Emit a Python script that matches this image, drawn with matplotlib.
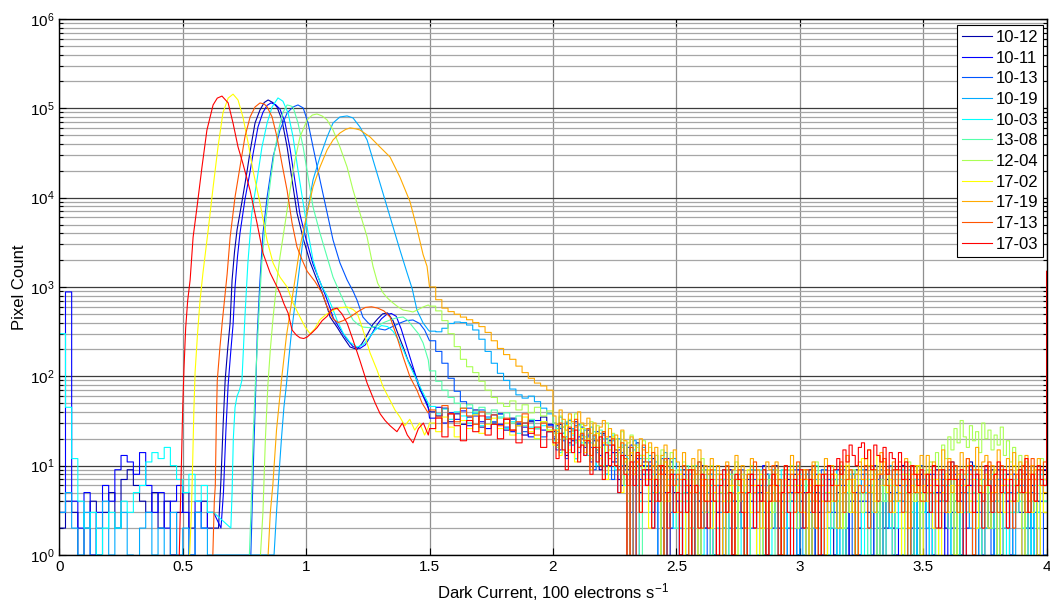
import numpy as np
import matplotlib
matplotlib.use("Agg")
import matplotlib.pyplot as plt
from matplotlib.ticker import FixedLocator, FuncFormatter, LogLocator, NullFormatter

plt.rcParams['font.family'] = ['Liberation Sans', 'DejaVu Sans']
plt.rcParams['mathtext.default'] = 'regular'

# ---------------------------------------------------------------------------
# Histogram data (dark current in units of 100 e-/s, pixel counts)
# ---------------------------------------------------------------------------
labels = ['10-12', '10-11', '10-13', '10-19', '10-03', '13-08',
          '12-04', '17-02', '17-19', '17-13', '17-03']
colors = [(0, 0, 0.667), (0, 0, 1), (0, 0.333, 1), (0, 0.667, 1), (0, 1, 1),
          (0.333, 1, 0.667), (0.667, 1, 0.333), (1, 1, 0), (1, 0.667, 0),
          (1, 0.333, 0), (1, 0, 0)]

LOW_START, LOW_W = 0.0, 0.025        # 25 bins, 0 .. 0.625
MID_START, MID_W = 1.5, 0.025        # 20 bins, 1.5 .. 2.0
FAR_START, FAR_W = 2.0, 0.0125       # 160 bins, 2.0 .. 4.0

# low-signal counts (0 .. 0.625)
low_10_12 = [2, 4, 3, 0, 2, 4, 1, 3, 5, 2, 7, 9, 6, 4, 3, 5, 2, 4, 1, 3, 5, 2, 3, 4, 2]
low_10_11 = [3, 880, 4, 2, 5, 1, 3, 6, 4, 9, 13, 11, 8, 14, 6, 3, 5, 2, 4, 6, 3, 1, 4, 2, 3]
low_10_19 = [3, 5, 2, 1, 3, 0, 2, 4, 1, 2, 3, 1, 0, 2, 3, 1, 2, 0, 3, 1, 2, 1, 3, 2, 1]
low_10_03 = [300, 45, 12, 4, 2, 3, 1, 2, 3, 2, 4, 3, 5, 6, 11, 14, 12, 16, 10, 7, 5, 8, 4, 6, 3]
low_17_19 = [0] * 25

# single-bin counts at the range edges
first_17_19 = 1550     # x = 0
last_17_03 = 1500      # x = 4

# main peak + secondary bump (bin centre, count)
x_10_12 = [0.645, 0.655, 0.664, 0.672, 0.682, 0.692, 0.700, 0.710, 0.720, 0.740, 0.761, 0.773,
           0.793, 0.813, 0.830, 0.846, 0.865, 0.882, 0.902, 0.923, 0.943, 0.963, 0.988, 1.016,
           1.044, 1.065, 1.085, 1.097, 1.125, 1.150, 1.178, 1.206, 1.225, 1.247, 1.270, 1.290,
           1.310, 1.330, 1.352, 1.372, 1.393, 1.413, 1.433, 1.462, 1.490]
n_10_12 = [2, 7, 30, 91, 200, 395, 1200, 2500, 4340, 9000, 20000, 33000,
           68500, 95800, 116000, 124000, 116000, 103500, 74000, 36900, 15800, 6730, 3500, 1900,
           1200, 857, 597, 461, 356, 276, 213, 200, 230, 290, 380, 440,
           500, 512, 420, 300, 213, 150, 118, 70, 50]

x_10_11 = [0.655, 0.665, 0.675, 0.684, 0.694, 0.704, 0.712, 0.722, 0.732, 0.752, 0.772, 0.785,
           0.805, 0.825, 0.842, 0.858, 0.876, 0.894, 0.914, 0.935, 0.955, 0.975, 1.000, 1.028,
           1.056, 1.077, 1.097, 1.110, 1.137, 1.162, 1.190, 1.218, 1.240, 1.262, 1.285, 1.305,
           1.325, 1.345, 1.365, 1.385, 1.405, 1.425, 1.445, 1.472, 1.495]
n_10_11 = [2, 5, 25, 80, 180, 380, 1000, 2200, 4000, 9500, 19000, 31000,
           62000, 90000, 108000, 115000, 110000, 98000, 70000, 35000, 15000, 6500, 3400, 1800,
           1150, 820, 580, 450, 340, 265, 215, 205, 225, 285, 370, 440,
           490, 505, 470, 340, 225, 150, 100, 62, 44]

x_10_13 = [0.776, 0.782, 0.788, 0.795, 0.802, 0.813, 0.825, 0.842, 0.866, 0.894, 0.923, 0.947,
           0.967, 0.988, 1.008, 1.028, 1.056, 1.085, 1.109, 1.137, 1.166, 1.190, 1.206, 1.230,
           1.250, 1.271, 1.295, 1.320, 1.350, 1.380, 1.405, 1.433, 1.460, 1.480]
n_10_13 = [1, 4, 15, 60, 300, 1200, 4000, 10200, 28500, 57000, 88700, 103500,
           109000, 101000, 68500, 36900, 15800, 6730, 3360, 1860, 1200, 900, 715, 461,
           400, 356, 340, 330, 360, 395, 420, 427, 390, 330]

x_10_19 = [0.870, 0.880, 0.890, 0.900, 0.910, 0.920, 0.930, 0.940, 0.955, 0.967, 0.985, 1.004,
           1.028, 1.056, 1.085, 1.109, 1.137, 1.166, 1.190, 1.218, 1.247, 1.271, 1.299, 1.328,
           1.352, 1.380, 1.409, 1.430, 1.449, 1.474, 1.495]
n_10_19 = [1, 3, 8, 20, 45, 80, 160, 300, 650, 1200, 3000, 6730,
           15800, 28500, 47800, 68500, 80000, 82100, 78000, 61800, 44200, 26400, 14600, 7860,
           4690, 2600, 1440, 950, 552, 395, 330]

x_10_03 = [0.695, 0.700, 0.705, 0.712, 0.720, 0.730, 0.740, 0.752, 0.764, 0.780, 0.801, 0.821,
           0.842, 0.862, 0.886, 0.906, 0.927, 0.947, 0.967, 0.988, 1.008, 1.028, 1.048, 1.065,
           1.085, 1.105, 1.125, 1.150, 1.178, 1.206, 1.230, 1.255, 1.280, 1.305, 1.330, 1.352,
           1.372, 1.393, 1.421, 1.449, 1.474, 1.495]
n_10_03 = [2, 5, 20, 45, 60, 70, 91, 461, 1860, 6730, 15800, 36900,
           68500, 103500, 130600, 120000, 88700, 47800, 20400, 8700, 4020, 2000, 1300, 1000,
           800, 597, 427, 305, 240, 213, 225, 270, 330, 370, 360, 320,
           260, 200, 130, 90, 65, 50]

x_13_08 = [0.770, 0.778, 0.785, 0.795, 0.808, 0.820, 0.838, 0.855, 0.872, 0.890, 0.906, 0.923,
           0.935, 0.947, 0.967, 0.988, 1.008, 1.028, 1.056, 1.085, 1.109, 1.130, 1.150, 1.170,
           1.190, 1.210, 1.230, 1.260, 1.290, 1.315, 1.340, 1.365, 1.393, 1.413, 1.433, 1.455,
           1.474, 1.495]
n_13_08 = [1, 4, 20, 91, 460, 1800, 6000, 15000, 33000, 60000, 90000, 109000,
           107000, 103500, 68500, 36900, 17000, 7860, 4020, 2170, 1290, 950, 715, 540,
           427, 380, 356, 350, 370, 400, 427, 450, 461, 420, 356, 300,
           236, 152]

x_12_04 = [0.815, 0.825, 0.835, 0.845, 0.855, 0.866, 0.882, 0.894, 0.915, 0.935, 0.955, 0.975,
           1.004, 1.025, 1.044, 1.065, 1.085, 1.109, 1.137, 1.166, 1.190, 1.218, 1.247, 1.271,
           1.290, 1.312, 1.332, 1.352, 1.372, 1.393, 1.413, 1.433, 1.455, 1.474, 1.495]
n_12_04 = [1, 3, 20, 80, 200, 450, 1200, 2170, 5200, 12200, 26400, 47800,
           74000, 84000, 86400, 82000, 74000, 57200, 36900, 22000, 12200, 6730, 3630, 1700,
           1100, 857, 740, 662, 600, 552, 540, 525, 560, 597, 629]

x_17_02 = [0.528, 0.535, 0.540, 0.545, 0.550, 0.560, 0.570, 0.582, 0.603, 0.623, 0.643, 0.663,
           0.684, 0.704, 0.724, 0.744, 0.765, 0.785, 0.813, 0.842, 0.866, 0.894, 0.923, 0.947,
           0.967, 0.996, 1.016, 1.035, 1.056, 1.076, 1.097, 1.117, 1.137, 1.166, 1.190, 1.206,
           1.218, 1.235, 1.259, 1.287, 1.312, 1.340, 1.360, 1.380, 1.400, 1.420, 1.440, 1.460,
           1.480, 1.495]
n_17_02 = [1, 3, 10, 40, 110, 300, 700, 1440, 4300, 13000, 37000, 89000,
           130000, 144000, 124000, 80000, 41000, 20000, 8700, 3300, 1860, 1290, 1000, 660,
           510, 356, 300, 340, 430, 480, 525, 560, 585, 597, 560, 512,
           420, 300, 183, 118, 76, 54, 42, 35, 28, 33, 25, 30,
           22, 27]

x_17_19 = [0.846, 0.855, 0.865, 0.880, 0.900, 0.920, 0.940, 0.955, 0.975, 1.004, 1.028, 1.056,
           1.085, 1.109, 1.137, 1.160, 1.178, 1.200, 1.218, 1.259, 1.299, 1.340, 1.380, 1.421,
           1.449, 1.474, 1.490]
n_17_19 = [1, 3, 6, 25, 90, 280, 650, 1200, 2800, 6730, 13200, 22000,
           34200, 44200, 52900, 58000, 60300, 59000, 57200, 47800, 36900, 28500, 17000, 9000,
           4500, 2300, 1700]

x_17_13 = [0.622, 0.628, 0.632, 0.636, 0.640, 0.650, 0.660, 0.670, 0.680, 0.692, 0.712, 0.732,
           0.752, 0.773, 0.793, 0.813, 0.830, 0.842, 0.862, 0.882, 0.902, 0.923, 0.943, 0.963,
           0.984, 1.004, 1.036, 1.065, 1.085, 1.109, 1.130, 1.150, 1.178, 1.210, 1.240, 1.265,
           1.290, 1.315, 1.340, 1.368, 1.393, 1.421, 1.449, 1.470, 1.494]
n_17_13 = [1, 4, 6, 30, 90, 200, 400, 750, 1400, 3600, 10200, 22000,
           47800, 80000, 103500, 114700, 112000, 103500, 80000, 47800, 24000, 12000, 5200, 2800,
           2000, 1500, 1150, 850, 600, 440, 400, 420, 461, 530, 590, 600,
           580, 540, 461, 276, 165, 98, 70, 50, 39]

x_17_03 = [0.486, 0.490, 0.495, 0.500, 0.505, 0.512, 0.520, 0.530, 0.542, 0.558, 0.578, 0.598,
           0.623, 0.640, 0.659, 0.684, 0.704, 0.724, 0.744, 0.773, 0.801, 0.825, 0.854, 0.875,
           0.894, 0.910, 0.927, 0.943, 0.960, 0.975, 0.990, 1.004, 1.025, 1.044, 1.065, 1.085,
           1.105, 1.125, 1.145, 1.166, 1.190, 1.218, 1.247, 1.280, 1.300, 1.320, 1.340, 1.368,
           1.390, 1.410, 1.433, 1.455, 1.475, 1.495]
n_17_03 = [1, 3, 12, 45, 120, 350, 700, 1200, 3600, 7900, 22000, 57000,
           109000, 130000, 137000, 115000, 68000, 37000, 24000, 12000, 5200, 2400, 1440, 1100,
           860, 650, 510, 330, 290, 270, 265, 275, 310, 350, 420, 470,
           560, 580, 500, 395, 255, 150, 84, 50, 38, 32, 28, 24,
           30, 22, 18, 26, 30, 22]

# counts 1.5 .. 2.0 (20 bins)
mid_10_12 = [40, 36, 44, 31, 38, 29, 35, 42, 27, 33, 30, 38, 25, 34, 28, 22, 31, 26, 35, 24]
mid_10_11 = [34, 45, 30, 39, 33, 41, 28, 36, 31, 26, 37, 29, 33, 24, 30, 27, 21, 32, 25, 29]
mid_10_13 = [250, 190, 140, 95, 68, 52, 44, 38, 42, 35, 31, 38, 27, 33, 29, 24, 32, 26, 21, 28]
mid_10_19 = [320, 315, 345, 390, 405, 400, 375, 330, 260, 190, 140, 108, 90, 72, 62, 57, 60, 52, 44, 38]
mid_10_03 = [46, 38, 43, 33, 40, 36, 30, 39, 28, 34, 29, 35, 26, 31, 23, 30, 27, 20, 28, 24]
mid_13_08 = [115, 88, 70, 58, 50, 44, 48, 40, 45, 38, 42, 34, 39, 30, 36, 28, 33, 26, 31, 25]
mid_12_04 = [610, 540, 420, 300, 215, 155, 128, 110, 88, 70, 58, 50, 46, 53, 42, 48, 39, 45, 36, 41]
mid_17_02 = [30, 24, 35, 27, 21, 32, 26, 37, 23, 29, 34, 26, 30, 22, 28, 35, 24, 20, 31, 25]
mid_17_19 = [1000, 720, 580, 530, 495, 460, 430, 400, 360, 310, 250, 205, 175, 155, 130, 110, 95, 84, 78, 70]
mid_17_13 = [42, 35, 47, 38, 31, 44, 36, 29, 40, 33, 37, 28, 34, 25, 31, 38, 26, 22, 30, 27]
mid_17_03 = [26, 34, 21, 38, 28, 19, 32, 24, 36, 22, 29, 20, 33, 25, 18, 30, 23, 27, 16, 24]

# counts 2.0 .. 4.0 (160 bins)
far_10_12 = [24, 17, 29, 21, 13, 26, 19, 31, 16, 22, 18, 25, 12, 20, 15, 9, 23, 14, 19, 11,
             14, 7, 16, 10, 0, 13, 8, 18, 5, 11, 9, 4, 12, 6, 10, 2, 8, 0, 11, 5,
             7, 3, 9, 1, 6, 0, 8, 4, 10, 2, 5, 8, 0, 3, 7, 2, 6, 9, 1, 4,
             6, 2, 0, 7, 4, 9, 3, 5, 1, 8, 3, 6, 10, 2, 5, 0, 7, 4, 8, 1,
             4, 7, 2, 9, 0, 5, 3, 6, 8, 2, 6, 1, 5, 8, 3, 0, 7, 4, 9, 2,
             5, 9, 3, 6, 0, 4, 8, 2, 7, 5, 2, 6, 4, 10, 3, 7, 1, 5, 0, 8,
             7, 3, 5, 0, 9, 4, 6, 2, 8, 3, 4, 8, 1, 6, 3, 11, 5, 0, 7, 4,
             6, 2, 9, 4, 7, 1, 5, 8, 0, 3, 5, 7, 3, 8, 2, 6, 0, 4, 9, 5]
far_10_11 = [20, 28, 15, 23, 30, 18, 25, 12, 21, 27, 16, 22, 11, 19, 24, 13, 17, 8, 21, 14,
             11, 15, 6, 13, 9, 17, 0, 12, 7, 10, 6, 11, 3, 8, 0, 9, 5, 12, 2, 7,
             4, 0, 8, 5, 2, 9, 6, 1, 7, 3, 8, 4, 1, 6, 0, 7, 3, 9, 5, 2,
             3, 7, 5, 0, 8, 2, 6, 4, 10, 1, 6, 2, 8, 4, 1, 7, 0, 5, 3, 9,
             2, 5, 0, 7, 4, 8, 6, 1, 9, 3, 7, 3, 9, 2, 6, 0, 4, 8, 5, 1,
             4, 8, 2, 5, 10, 3, 0, 6, 2, 7, 9, 1, 6, 3, 8, 5, 2, 7, 0, 4,
             3, 6, 8, 1, 5, 9, 4, 0, 7, 2, 8, 0, 4, 7, 2, 6, 10, 3, 5, 1,
             2, 7, 5, 0, 9, 3, 6, 4, 1, 8, 6, 3, 0, 5, 8, 2, 7, 1, 4, 9]
far_10_13 = [21, 15, 26, 19, 12, 24, 17, 28, 14, 20, 13, 21, 16, 9, 19, 12, 22, 10, 17, 7,
             12, 5, 14, 9, 16, 3, 11, 0, 13, 8, 7, 10, 2, 9, 5, 12, 0, 6, 3, 8,
             5, 1, 7, 9, 3, 0, 6, 4, 8, 2, 0, 6, 3, 8, 5, 1, 9, 2, 4, 7,
             4, 9, 1, 5, 2, 7, 0, 6, 3, 8, 7, 3, 6, 0, 4, 8, 2, 5, 9, 1,
             5, 2, 8, 3, 0, 6, 4, 9, 1, 7, 3, 7, 0, 6, 9, 2, 5, 1, 8, 4,
             8, 4, 6, 1, 3, 7, 9, 0, 5, 2, 1, 5, 9, 4, 7, 0, 3, 6, 2, 10,
             6, 0, 3, 8, 2, 5, 7, 4, 9, 1, 2, 7, 5, 0, 6, 9, 1, 8, 3, 5,
             9, 3, 1, 6, 4, 0, 7, 2, 5, 8, 4, 6, 8, 2, 0, 5, 3, 9, 6, 1]
far_10_19 = [30, 24, 35, 27, 21, 32, 26, 19, 29, 23, 25, 18, 27, 21, 14, 23, 17, 20, 12, 19,
             15, 20, 10, 17, 8, 14, 19, 6, 12, 16, 10, 13, 5, 11, 0, 9, 14, 4, 8, 12,
             7, 2, 10, 5, 8, 0, 6, 11, 3, 9, 5, 8, 1, 6, 3, 9, 0, 7, 4, 2,
             8, 4, 6, 0, 9, 2, 5, 7, 1, 6, 3, 9, 2, 7, 5, 0, 8, 4, 6, 1,
             6, 1, 8, 4, 2, 7, 5, 0, 9, 3, 2, 7, 4, 9, 0, 5, 3, 8, 1, 6,
             9, 3, 0, 6, 8, 2, 7, 4, 5, 10, 4, 8, 5, 1, 6, 9, 3, 0, 7, 2,
             7, 2, 9, 5, 0, 4, 8, 6, 3, 11, 3, 6, 1, 8, 5, 2, 10, 4, 0, 7,
             8, 5, 3, 0, 7, 9, 2, 6, 4, 1, 5, 9, 6, 2, 4, 0, 8, 3, 7, 6]
far_10_03 = [19, 26, 14, 23, 29, 17, 22, 12, 25, 18, 21, 13, 18, 24, 10, 16, 20, 8, 15, 22,
             9, 14, 17, 6, 12, 0, 15, 10, 4, 13, 11, 3, 8, 13, 5, 9, 0, 7, 12, 2,
             6, 9, 0, 4, 8, 2, 10, 5, 1, 7, 3, 6, 9, 2, 0, 7, 4, 8, 5, 1,
             7, 0, 5, 8, 3, 6, 1, 9, 2, 4, 1, 8, 4, 6, 9, 2, 5, 0, 7, 3,
             8, 3, 6, 0, 5, 10, 2, 7, 4, 1, 4, 9, 1, 7, 2, 5, 8, 3, 0, 6,
             0, 5, 7, 3, 9, 1, 6, 4, 8, 2, 6, 2, 4, 9, 0, 8, 3, 7, 1, 5,
             3, 8, 0, 5, 7, 2, 9, 4, 6, 0, 9, 1, 6, 3, 8, 4, 0, 7, 2, 5,
             2, 6, 8, 4, 1, 7, 5, 0, 9, 3, 7, 4, 2, 9, 5, 0, 6, 3, 8, 4]
far_13_08 = [23, 16, 27, 20, 31, 14, 24, 18, 28, 21, 17, 23, 12, 20, 15, 25, 10, 18, 13, 21,
             13, 8, 16, 11, 4, 14, 9, 17, 0, 12, 8, 12, 4, 10, 6, 0, 11, 3, 9, 7,
             2, 8, 5, 10, 3, 7, 0, 6, 9, 4, 6, 1, 9, 4, 7, 2, 5, 0, 8, 3,
             4, 7, 2, 0, 6, 9, 3, 8, 1, 5, 8, 5, 0, 7, 3, 6, 9, 2, 4, 10,
             3, 9, 6, 1, 8, 4, 0, 7, 5, 2, 7, 2, 4, 8, 0, 6, 3, 9, 1, 5,
             5, 8, 1, 6, 9, 3, 7, 0, 4, 6, 0, 4, 7, 2, 5, 8, 1, 6, 10, 3,
             6, 9, 3, 5, 0, 7, 4, 8, 2, 9, 4, 1, 8, 6, 3, 10, 5, 2, 7, 0,
             7, 5, 2, 9, 4, 0, 8, 6, 3, 6, 3, 8, 5, 1, 7, 4, 9, 2, 6, 4]
far_12_04 = [30, 23, 36, 27, 20, 33, 25, 38, 22, 29, 26, 19, 31, 22, 28, 16, 24, 30, 18, 23,
             20, 14, 24, 11, 18, 22, 9, 16, 13, 19, 12, 16, 7, 13, 9, 15, 4, 10, 14, 6,
             9, 4, 11, 7, 0, 10, 5, 8, 12, 3, 6, 10, 3, 8, 5, 0, 9, 4, 7, 11,
             4, 8, 6, 2, 10, 5, 7, 0, 9, 3, 7, 3, 9, 5, 1, 8, 4, 10, 6, 2,
             5, 9, 2, 7, 4, 11, 0, 6, 8, 3, 8, 4, 6, 10, 2, 7, 5, 9, 3, 6,
             3, 7, 10, 5, 8, 1, 6, 4, 9, 7, 6, 9, 4, 8, 3, 11, 7, 5, 10, 4,
             8, 5, 11, 7, 14, 9, 17, 12, 21, 15, 26, 18, 32, 21, 16, 28, 19, 24, 14, 30,
             20, 25, 15, 22, 17, 27, 13, 19, 11, 16, 9, 13, 7, 11, 5, 10, 8, 6, 12, 7]
far_17_02 = [17, 25, 13, 21, 28, 15, 23, 11, 19, 26, 14, 20, 9, 17, 23, 12, 18, 7, 15, 21,
             10, 16, 5, 12, 0, 14, 8, 11, 3, 13, 7, 2, 10, 5, 8, 0, 11, 4, 9, 6,
             3, 8, 0, 6, 2, 9, 5, 1, 7, 4, 9, 2, 5, 0, 7, 4, 8, 3, 6, 1,
             5, 7, 1, 9, 3, 6, 0, 8, 2, 5, 2, 6, 8, 4, 0, 7, 5, 9, 3, 6,
             7, 3, 0, 6, 9, 2, 8, 4, 1, 5, 4, 8, 6, 2, 5, 10, 3, 7, 0, 9,
             12, 6, 15, 9, 4, 13, 8, 11, 5, 7, 3, 9, 5, 0, 8, 2, 6, 4, 10, 1,
             6, 4, 9, 2, 7, 0, 5, 8, 3, 6, 1, 8, 3, 6, 10, 4, 7, 2, 9, 5,
             8, 2, 5, 9, 0, 6, 3, 7, 4, 10, 4, 7, 0, 5, 8, 3, 9, 1, 6, 3]
far_17_19 = [36, 29, 42, 33, 25, 38, 31, 27, 40, 30, 28, 34, 23, 30, 19, 27, 32, 21, 26, 17,
             22, 16, 25, 19, 13, 21, 17, 11, 20, 15, 14, 18, 10, 16, 8, 13, 17, 6, 12, 15,
             11, 7, 14, 9, 5, 12, 8, 15, 6, 10, 8, 12, 4, 10, 7, 0, 11, 6, 9, 13,
             6, 10, 3, 8, 12, 5, 9, 2, 7, 11, 9, 4, 11, 7, 2, 10, 6, 13, 5, 8,
             5, 9, 7, 0, 11, 4, 8, 6, 12, 3, 10, 6, 2, 9, 5, 13, 7, 3, 8, 11,
             7, 12, 5, 10, 3, 8, 14, 6, 9, 4, 11, 4, 9, 6, 12, 2, 8, 10, 5, 13,
             8, 13, 6, 11, 4, 9, 15, 7, 12, 5, 10, 6, 14, 8, 12, 3, 9, 16, 7, 11,
             13, 7, 10, 5, 15, 9, 6, 12, 8, 14, 6, 11, 8, 13, 4, 10, 7, 12, 9, 5]
far_17_13 = [25, 18, 30, 21, 14, 27, 20, 33, 16, 23, 19, 26, 13, 22, 16, 10, 24, 17, 12, 20,
             15, 9, 18, 12, 6, 16, 0, 13, 10, 17, 11, 7, 14, 4, 10, 8, 12, 2, 9, 6,
             8, 3, 10, 6, 0, 9, 5, 11, 2, 7, 4, 9, 6, 1, 8, 3, 10, 5, 0, 7,
             9, 5, 2, 8, 6, 11, 3, 7, 4, 0, 6, 10, 4, 7, 1, 9, 5, 8, 3, 11,
             3, 7, 9, 5, 10, 2, 6, 0, 8, 4, 8, 4, 6, 11, 3, 7, 9, 5, 1, 6,
             5, 10, 2, 7, 9, 4, 8, 12, 6, 3, 9, 6, 11, 3, 7, 0, 10, 5, 8, 4,
             4, 8, 5, 10, 2, 9, 6, 3, 11, 7, 10, 3, 7, 5, 12, 8, 1, 9, 6, 4,
             6, 11, 4, 8, 3, 10, 7, 5, 9, 2, 8, 5, 10, 3, 7, 12, 4, 9, 6, 11]
far_17_03 = [18, 12, 23, 15, 9, 20, 14, 25, 11, 17, 13, 19, 8, 16, 11, 21, 7, 14, 10, 17,
             10, 5, 13, 8, 0, 11, 6, 14, 3, 9, 6, 9, 2, 7, 4, 10, 0, 5, 8, 3,
             5, 1, 7, 3, 9, 0, 6, 2, 8, 4, 2, 7, 4, 0, 6, 9, 3, 5, 1, 8,
             7, 3, 0, 5, 8, 2, 6, 4, 9, 1, 4, 8, 6, 1, 5, 10, 3, 0, 7, 5,
             9, 2, 5, 7, 3, 6, 1, 8, 4, 10, 6, 9, 12, 8, 15, 11, 17, 13, 10, 16,
             18, 12, 15, 9, 17, 13, 11, 16, 8, 14, 12, 9, 14, 7, 11, 5, 10, 8, 6, 9,
             5, 8, 3, 10, 6, 2, 9, 4, 7, 11, 7, 4, 9, 0, 6, 10, 3, 8, 5, 2,
             10, 6, 3, 8, 11, 5, 9, 2, 7, 4, 6, 9, 5, 12, 3, 8, 4, 10, 7, 6]


def stair_vertices(start, width, counts):
    """Vertices of a step outline for equal-width histogram bins."""
    xs, ys = [], []
    for i, c in enumerate(counts):
        left = start + i * width
        xs += [left, left + width]
        ys += [c, c]
    return xs, ys


series = [
    (None, low_10_12, x_10_12, n_10_12, mid_10_12, far_10_12, None),
    (None, low_10_11, x_10_11, n_10_11, mid_10_11, far_10_11, None),
    (None, None, x_10_13, n_10_13, mid_10_13, far_10_13, None),
    (None, low_10_19, x_10_19, n_10_19, mid_10_19, far_10_19, None),
    (None, low_10_03, x_10_03, n_10_03, mid_10_03, far_10_03, None),
    (None, None, x_13_08, n_13_08, mid_13_08, far_13_08, None),
    (None, None, x_12_04, n_12_04, mid_12_04, far_12_04, None),
    (None, None, x_17_02, n_17_02, mid_17_02, far_17_02, None),
    (first_17_19, low_17_19, x_17_19, n_17_19, mid_17_19, far_17_19, None),
    (None, None, x_17_13, n_17_13, mid_17_13, far_17_13, None),
    (None, None, x_17_03, n_17_03, mid_17_03, far_17_03, last_17_03),
]

fig = plt.figure(figsize=(10.5, 6.02), dpi=100)
ax = fig.add_axes([0.0565, 0.0781, 0.9402, 0.8904])
ax.set_yscale('log', nonpositive='clip')

for (first, low, bx, by, mid, far, last), label, color in zip(series, labels, colors):
    assert len(bx) == len(by) and len(mid) == 20 and len(far) == 160
    xs, ys = [], []
    if first is not None:
        xs.append(0.0)
        ys.append(first)
    if low is not None:
        lx, ly = stair_vertices(LOW_START, LOW_W, low)
        xs += lx
        ys += ly
    xs += bx
    ys += by
    for start, width, counts in ((MID_START, MID_W, mid), (FAR_START, FAR_W, far)):
        sx, sy = stair_vertices(start, width, counts)
        xs += sx
        ys += sy
    if last is not None:
        xs.append(4.0)
        ys.append(last)
    ax.plot(xs, ys, color=color, lw=0.8, label=label)

ax.set_xlim(0, 4)
ax.set_ylim(1, 1e6)

ax.xaxis.set_major_locator(FixedLocator(np.arange(0, 4.01, 0.5)))
ax.xaxis.set_major_formatter(FuncFormatter(lambda v, p: f'{v:g}'))
ax.yaxis.set_major_locator(FixedLocator([1e0, 1e1, 1e2, 1e3, 1e4, 1e5, 1e6]))
ax.yaxis.set_major_formatter(FuncFormatter(lambda v, p: f'$10^{{{int(round(np.log10(v)))}}}$'))
ax.yaxis.set_minor_locator(LogLocator(base=10, subs=np.arange(2, 10), numticks=20))
ax.yaxis.set_minor_formatter(NullFormatter())

ax.grid(True, which='major', axis='x', color='#8f8f8f', lw=0.9)
ax.grid(True, which='major', axis='y', color='#3c3c3c', lw=0.9)
ax.grid(True, which='minor', axis='y', color='#a6a6a6', lw=0.9)
ax.set_axisbelow(True)

ax.tick_params(which='both', direction='in', top=True, right=True, labelsize=11,
               color='black', width=0.8)
ax.tick_params(which='major', length=5)
ax.tick_params(which='minor', length=3)
for s in ax.spines.values():
    s.set_linewidth(1.0)
    s.set_color('black')

ax.set_xlabel('Dark Current, 100 electrons s$^{-1}$', fontsize=12, labelpad=5)
ax.set_ylabel('Pixel Count', fontsize=12, labelpad=2)

leg = ax.legend(loc='upper right', bbox_to_anchor=(0.9965, 0.9888), borderaxespad=0,
                fontsize=12, frameon=True, fancybox=False, framealpha=1,
                edgecolor='black', borderpad=0.3, labelspacing=0.34,
                handlelength=1.8, handletextpad=0.2)
leg.get_frame().set_linewidth(0.8)

fig.savefig('out.png', dpi=100)
